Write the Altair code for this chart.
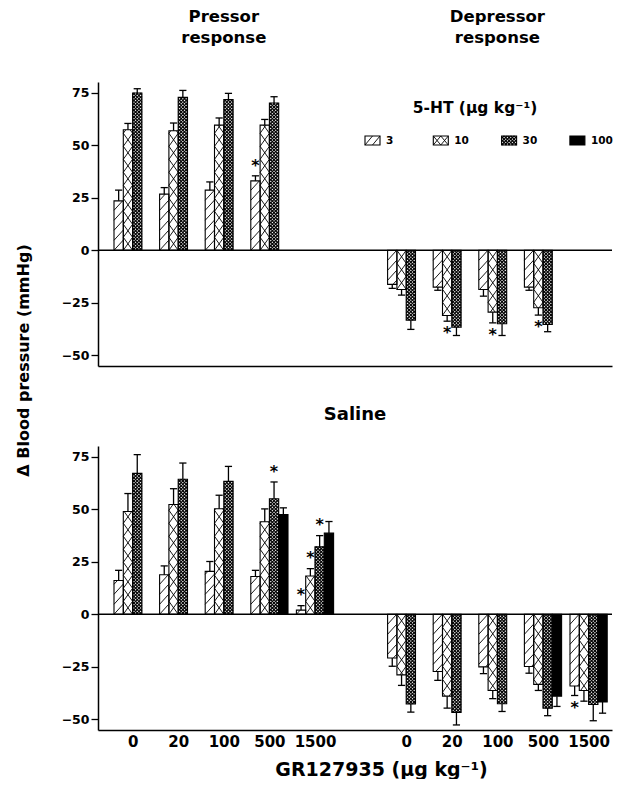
import json
import altair as alt
import numpy as np
import pandas as pd

# ---------------- data ----------------
GR_DOSES = ["0", "20", "100", "500", "1500"]          # GR127935 (ug/kg)
HT_DOSES = ["3", "10", "30", "100"]                    # 5-HT (ug/kg)
SIDES = ["Pressor", "Depressor"]
HEADERS = ["Pressor response", "Depressor response"]
LEGEND_TITLE = "5-HT (µg kg⁻¹)"
X_TITLE = "GR127935 (µg kg⁻¹)"
Y_TITLE = "Δ Blood pressure (mmHg)"
BOTTOM_TITLE = "Saline"
Y_TICKS = [-50, -25, 0, 25, 50, 75]

# upper panel (GR127935 0, 20, 100, 500)
up_pressor_3 = [23.5, 26.7, 28.6, 33.0]
up_pressor_3_sem = [5.1, 3.1, 3.9, 2.4]
up_pressor_10 = [57.3, 56.8, 59.5, 59.5]
up_pressor_10_sem = [3.0, 3.7, 3.4, 2.7]
up_pressor_30 = [74.8, 72.7, 71.6, 70.0]
up_pressor_30_sem = [2.0, 3.3, 3.0, 3.0]
up_depressor_3 = [-16.2, -17.5, -18.6, -17.5]
up_depressor_3_sem = [1.9, 1.5, 3.2, 1.5]
up_depressor_10 = [-18.6, -31.0, -29.4, -27.3]
up_depressor_10_sem = [2.7, 2.7, 5.1, 3.5]
up_depressor_30 = [-33.2, -36.5, -34.9, -35.3]
up_depressor_30_sem = [4.4, 4.0, 5.6, 3.4]
up_stars = [("Pressor", "500", "3"), ("Depressor", "20", "10"),
            ("Depressor", "100", "10"), ("Depressor", "500", "10")]

# lower panel: Saline
sal_pressor_3 = [16.1, 18.8, 20.4, 18.0, 2.0]
sal_pressor_3_sem = [4.8, 4.2, 4.7, 2.9, 2.1]
sal_pressor_10 = [48.9, 52.2, 50.2, 44.0, 18.2]
sal_pressor_10_sem = [8.5, 7.5, 6.4, 6.1, 3.5]
sal_pressor_30 = [67.0, 64.2, 63.2, 54.9, 32.1]
sal_pressor_30_sem = [8.9, 7.7, 7.1, 8.0, 5.3]
sal_pressor_100 = [None, None, None, 47.4, 38.6]
sal_pressor_100_sem = [None, None, None, 3.2, 5.5]
sal_depressor_3 = [-20.8, -27.2, -25.0, -24.8, -34.1]
sal_depressor_3_sem = [3.9, 4.2, 3.2, 3.2, 4.5]
sal_depressor_10 = [-28.8, -38.9, -36.2, -33.3, -36.2]
sal_depressor_10_sem = [5.0, 5.7, 3.9, 2.9, 5.1]
sal_depressor_30 = [-42.6, -46.6, -42.5, -44.6, -42.9]
sal_depressor_30_sem = [3.9, 6.0, 3.7, 3.6, 7.7]
sal_depressor_100 = [None, None, None, -38.9, -41.7]
sal_depressor_100_sem = [None, None, None, 4.9, 5.3]
sal_stars = [("Pressor", "500", "30"), ("Pressor", "1500", "3"), ("Pressor", "1500", "10"),
             ("Pressor", "1500", "30"), ("Depressor", "1500", "3")]

# ---------------- layout ----------------
W, H = 514, 284
YMIN, YMAX = -55, 80
KY = H / (YMAX - YMIN)          # px per mmHg
X0, SP, BW = 16.0, 45.6, 9.3    # first bar, group spacing, bar width (px units of x scale)
SIDE_SLOT = {"Pressor": 0, "Depressor": 6}

# (direction, slope, vertical spacing px, line width)
BAR_PATTERNS = {"3": [("/", 1.1, 10.0, 0.9)],
                "10": [("/", 1.4, 13.0, 0.9), ("\\", 1.4, 13.0, 0.9)],
                "30": [("/", 1.0, 3.3, 1.15), ("\\", 1.0, 3.3, 1.15)],
                "100": []}
LEG_PATTERNS = {"3": [("/", 1.2, 9.0, 0.9)],
                "10": [("/", 1.2, 9.0, 0.9), ("\\", 1.2, 9.0, 0.9)],
                "30": [("/", 1.0, 3.3, 1.15), ("\\", 1.0, 3.3, 1.15)],
                "100": []}


def hatch(xl, xr, v0, v1, patterns, anchor):
    ylo, yhi = min(v0, v1) * KY, max(v0, v1) * KY
    ya0 = anchor * KY
    w = xr - xl
    out = []
    for d, m, sp, lw in patterns:
        rise = m * w
        k0 = int(np.floor((ylo - rise - ya0) / sp))
        k1 = int(np.ceil((yhi - ya0) / sp))
        for k in range(k0, k1 + 1):
            ys = ya0 + k * sp
            ua = max(0.0, (ylo - ys) / m)
            ub = min(w, (yhi - ys) / m)
            if ub - ua > 0.25:
                y_a, y_b = ys + ua * m, ys + ub * m
                if d == "/":
                    xa, xb = xl + ua, xl + ub
                else:
                    xa, xb = xr - ua, xr - ub
                out.append(dict(x=xa, y=y_a / KY, x2=xb, y2=y_b / KY, sw=lw))
    return out


def build(series, stars):
    rows = []
    for side, dose, means, sems in series:
        for g, (m, s) in enumerate(zip(means, sems)):
            if m is None:
                continue
            di = HT_DOSES.index(dose)
            xl = X0 + (SIDE_SLOT[side] + g) * SP + di * BW
            sign = 1 if m > 0 else -1
            end = m + sign * s
            rows.append(dict(side=side, gr=GR_DOSES[g], dose=dose, xl=xl, xr=xl + BW,
                             xc=xl + BW / 2, cl=xl + BW / 2 - 3.6, cr=xl + BW / 2 + 3.6,
                             ya=0.0, yb=m, mean=m, end=end,
                             star=(side, GR_DOSES[g], dose) in stars,
                             starv=end + (6.3 if sign > 0 else -4.3)))
    return pd.DataFrame(rows)


up = build([("Pressor", "3", up_pressor_3, up_pressor_3_sem),
            ("Pressor", "10", up_pressor_10, up_pressor_10_sem),
            ("Pressor", "30", up_pressor_30, up_pressor_30_sem),
            ("Depressor", "3", up_depressor_3, up_depressor_3_sem),
            ("Depressor", "10", up_depressor_10, up_depressor_10_sem),
            ("Depressor", "30", up_depressor_30, up_depressor_30_sem)], up_stars)
sal = build([("Pressor", "3", sal_pressor_3, sal_pressor_3_sem),
             ("Pressor", "10", sal_pressor_10, sal_pressor_10_sem),
             ("Pressor", "30", sal_pressor_30, sal_pressor_30_sem),
             ("Pressor", "100", sal_pressor_100, sal_pressor_100_sem),
             ("Depressor", "3", sal_depressor_3, sal_depressor_3_sem),
             ("Depressor", "10", sal_depressor_10, sal_depressor_10_sem),
             ("Depressor", "30", sal_depressor_30, sal_depressor_30_sem),
             ("Depressor", "100", sal_depressor_100, sal_depressor_100_sem)], sal_stars)

# legend swatches (upper panel, in its data space)
LEG_X = [267 + 68.3 * i for i in range(len(HT_DOSES))]
leg_top = YMAX - (136 - 82) / KY
leg_bot = YMAX - (145 - 82) / KY
legend = pd.DataFrame(dict(dose=HT_DOSES, xl=LEG_X, xr=[x + 15 for x in LEG_X],
                           ya=leg_bot, yb=leg_top,
                           lx=[x + 21 for x in LEG_X], ly=(leg_top + leg_bot) / 2))


def hatch_df(bars, leg=None):
    segs = []
    for r in bars.itertuples():
        segs += hatch(r.xl, r.xr, r.ya, r.yb, BAR_PATTERNS[r.dose], 0.0)
    if leg is not None:
        for r in leg.itertuples():
            segs += hatch(r.xl, r.xr, r.ya, r.yb, LEG_PATTERNS[r.dose], r.ya)
    return pd.DataFrame(segs)


# ---------------- chart ----------------
xs = alt.Scale(domain=[0, W], nice=False, zero=False)
ys = alt.Scale(domain=[YMIN, YMAX], nice=False, zero=False)

centers = [X0 + (SIDE_SLOT[s] + g) * SP + 2 * BW for s in SIDES for g in range(len(GR_DOSES))]
label_expr = f"{json.dumps(GR_DOSES)}[round((datum.value - {X0 + 2 * BW}) / {SP}) % 6]"

top_x_axis = alt.Axis(labels=False, ticks=False, title=None, grid=False)
top_y_axis = alt.Axis(values=Y_TICKS, title=Y_TITLE, titleX=-70, titleY=278, titleAngle=270,
                      titleBaseline="alphabetic", titleAlign="center", titleFontSize=16)
bot_x_axis = alt.Axis(values=centers, labelExpr=label_expr, ticks=False, tickSize=0,
                      labelPadding=4, labelFontSize=15, labelFlush=False, labelOverlap=False,
                      title=X_TITLE, titleX=283, titleY=45, titleBaseline="alphabetic",
                      titleAlign="center", titleFontSize=19, grid=False)
bot_y_axis = alt.Axis(values=Y_TICKS, title=None)


def panel(bars, xaxis, yaxis, leg=None):
    def X(f):
        return alt.X(f, type="quantitative", scale=xs, axis=xaxis)

    def Y(f):
        return alt.Y(f, type="quantitative", scale=ys, axis=yaxis)

    rects = pd.concat([bars[["dose", "xl", "xr", "ya", "yb"]],
                       leg[["dose", "xl", "xr", "ya", "yb"]] if leg is not None else None])
    hd = hatch_df(bars, leg)
    fill_scale = alt.Scale(domain=HT_DOSES, range=["white", "white", "white", "black"])

    layers = [
        alt.Chart(rects).mark_rect().encode(
            x=X("xl"), x2="xr", y=Y("ya"), y2="yb",
            fill=alt.Fill("dose:N", scale=fill_scale, legend=None)),
        alt.Chart(hd).mark_rule(color="black").encode(
            x=X("x"), x2="x2", y=Y("y"), y2="y2",
            strokeWidth=alt.StrokeWidth("sw:Q", scale=None)),
        alt.Chart(rects).mark_rect(fillOpacity=0, stroke="black", strokeWidth=1.1).encode(
            x=X("xl"), x2="xr", y=Y("ya"), y2="yb"),
        alt.Chart(bars).mark_rule(color="black", strokeWidth=1.3).encode(
            x=X("xc"), y=Y("mean"), y2="end"),
        alt.Chart(bars).mark_rule(color="black", strokeWidth=1.3).encode(
            x=X("cl"), x2="cr", y=Y("end")),
        alt.Chart(bars[bars.star]).mark_text(text="*", fontSize=16, dy=8, align="center",
                                             baseline="alphabetic", color="black").encode(
            x=X("xc"), y=Y("starv")),
        alt.Chart(pd.DataFrame({"v": [0]})).mark_rule(color="black", strokeWidth=1.4).encode(
            y=Y("v")),
    ]
    if leg is not None:
        layers += [
            alt.Chart(leg).mark_text(align="left", baseline="middle", fontSize=10.5,
                                     color="black").encode(x=X("lx"), y=Y("ly"), text="dose:N"),
            alt.Chart(pd.DataFrame({"t": [LEGEND_TITLE]})).mark_text(
                align="center", baseline="alphabetic", fontSize=15.5, color="black").encode(
                x=alt.value(377), y=alt.value(30.5), text="t:N"),
        ]
    return alt.layer(*layers).properties(width=W, height=H)


hdr = pd.DataFrame({"t": HEADERS,
                    "x": [X0 + (SIDE_SLOT[s] + 2) * SP + 2 * BW for s in SIDES]})

top = alt.layer(
    panel(up, top_x_axis, top_y_axis, legend),
    alt.Chart(hdr).mark_text(align="center", baseline="alphabetic", fontSize=16.5,
                             lineBreak=" ", lineHeight=21, color="black").encode(
        x=alt.X("x:Q", scale=xs, axis=top_x_axis), y=alt.value(-60), text="t:N"),
).properties(width=W, height=H)

bottom = alt.layer(
    panel(sal, bot_x_axis, bot_y_axis),
    alt.Chart(pd.DataFrame({"t": [BOTTOM_TITLE]})).mark_text(
        align="center", baseline="alphabetic", fontSize=18, color="black").encode(
        x=alt.value(W / 2), y=alt.value(-26), text="t:N"),
).properties(width=W, height=H)

chart = alt.vconcat(top, bottom, spacing=80).properties(
    bounds="flush", padding={"left": 7, "top": 1, "right": 0, "bottom": 0}
).configure_view(stroke=None).configure_axis(
    domainColor="black", domainWidth=1.5, tickColor="black", tickWidth=1.3, tickSize=7,
    labelColor="black", labelFont="DejaVu Sans", labelFontWeight="bold", labelFontSize=12.5,
    labelPadding=2, titleColor="black", titleFont="DejaVu Sans", titleFontWeight="bold",
    grid=False
).configure_text(font="DejaVu Sans", fontWeight="bold")

chart.save("out.html", embed_options={"renderer": "svg", "actions": False})
